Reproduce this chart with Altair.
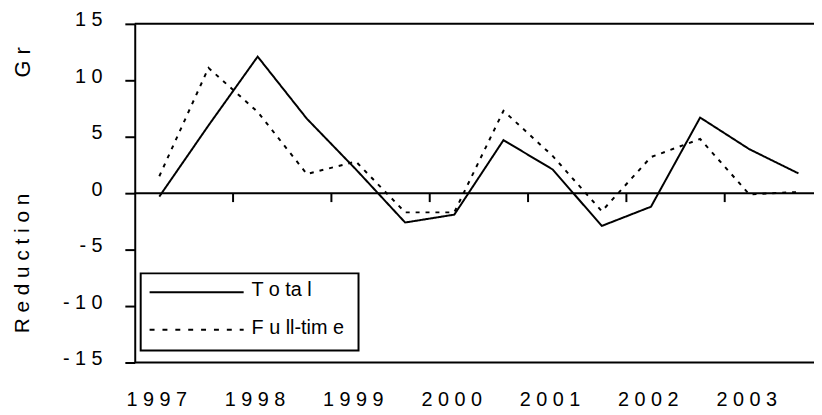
import altair as alt
import pandas as pd

# ---- data ----
years = [1997, 1998, 1999, 2000, 2001, 2002, 2003]
halves = ["H1", "H2"]
total = [-0.3, 6.0, 12.1, 6.6, 2.1, -2.6, -1.9, 4.7, 2.1, -2.9, -1.2, 6.7, 3.9, 1.75]
full_time = [1.5, 11.1, 7.2, 1.7, 2.8, -1.7, -1.7, 7.3, 3.3, -1.6, 3.2, 4.8, -0.1, 0.1]
series_names = ["Total", "Full-time"]
legend_labels = ["T o ta l", "F u ll-tim e"]
y_ticks = [-15, -10, -5, 0, 5, 10, 15]
border_values = [-15, 0, 15]
title_top = "G r"
title_bottom = "R e d u c t i o n"

FONT = "Liberation Sans, Arial, sans-serif"

rows = []
i = 0
for yr in years:
    for h in halves:
        t = yr + (0.25 if h == "H1" else 0.75)
        rows.append({"t": t, "v": total[i], "series": "Total"})
        rows.append({"t": t, "v": full_time[i], "series": "Full-time"})
        i += 1
df = pd.DataFrame(rows)

xs = alt.Scale(domain=[1997, 2003.908], nice=False, zero=False)
ys = alt.Scale(domain=[-15, 15], nice=False, zero=False)

spaced = "join(split(toString(datum.value), ''), ' ')"
spaced_year = "join(split(toString(floor(datum.value)), ''), ' ')"

lines = alt.Chart(df).mark_line(strokeWidth=2, color="black").encode(
    x=alt.X("t:Q", scale=xs,
            axis=alt.Axis(values=[y + 0.5 for y in years], labelExpr=spaced_year,
                          ticks=False, tickSize=0, domain=False, grid=False, title=None,
                          labelFont=FONT, labelFontSize=20, labelColor="black",
                          labelBaseline="alphabetic", labelPadding=43, labelOffset=-28,
                          labelFlush=False, labelOverlap=False, labelBound=False)),
    y=alt.Y("v:Q", scale=ys,
            axis=alt.Axis(values=y_ticks, labelExpr=spaced, tickSize=10, tickWidth=2,
                          tickColor="black", domainColor="black", domainWidth=2,
                          grid=False, title=None, labelFont=FONT, labelFontSize=20,
                          labelColor="black", labelPadding=23, labelOffset=-4,
                          labelOverlap=False, labelFlush=False)),
    strokeDash=alt.StrokeDash("series:N",
                              scale=alt.Scale(domain=series_names, range=[[1, 0], [4, 6]]),
                              legend=None),
    detail="series:N",
)

borders = alt.Chart(pd.DataFrame({"b": border_values})).mark_rule(
    strokeWidth=2, color="black").encode(y=alt.Y("b:Q", scale=ys))

ticks = alt.Chart(pd.DataFrame({"yr": years[1:], "z": [0] * (len(years) - 1)})).mark_tick(
    orient="vertical", size=9, thickness=2, yOffset=4.5, color="black", opacity=1
).encode(x=alt.X("yr:Q", scale=xs), y=alt.Y("z:Q", scale=ys))

t_top = alt.Chart(pd.DataFrame({"t": [title_top]})).mark_text(
    angle=270, font=FONT, fontSize=22, align="center", baseline="middle", color="black"
).encode(text="t:N", x=alt.value(-113), y=alt.value(39))

t_bottom = alt.Chart(pd.DataFrame({"t": [title_bottom]})).mark_text(
    angle=270, font=FONT, fontSize=21, align="center", baseline="middle", color="black"
).encode(text="t:N", x=alt.value(-113), y=alt.value(242))

legend_box = alt.Chart(pd.DataFrame({"a": [0]})).mark_rect(
    fill="white", stroke="black", strokeWidth=2
).encode(x=alt.value(6), x2=alt.value(226), y=alt.value(252), y2=alt.value(330))

leg_solid = alt.Chart(pd.DataFrame({"a": [0]})).mark_rule(
    strokeWidth=2, color="black"
).encode(x=alt.value(15), x2=alt.value(110), y=alt.value(271))

leg_dash = alt.Chart(pd.DataFrame({"a": [0]})).mark_rule(
    strokeWidth=2, color="black", strokeDash=[5, 8]
).encode(x=alt.value(15), x2=alt.value(110), y=alt.value(309))

leg_text = alt.Chart(pd.DataFrame({"lab": legend_labels, "yy": [275, 313]})).mark_text(
    font=FONT, fontSize=20, align="left", baseline="alphabetic", color="black"
).encode(text="lab:N", x=alt.value(118), y=alt.Y("yy:Q", scale=None, axis=None))

chart = alt.layer(
    borders, ticks, lines, legend_box, leg_solid, leg_dash, leg_text, t_top, t_bottom
).properties(
    width=686, height=342,
    autosize=alt.AutoSizeParams(type="none"),
    padding={"left": 128, "top": 14, "right": 0, "bottom": 50},
    background="white",
).configure_view(stroke=None)

chart.save("out.html", embed_options={"renderer": "svg", "actions": False})
